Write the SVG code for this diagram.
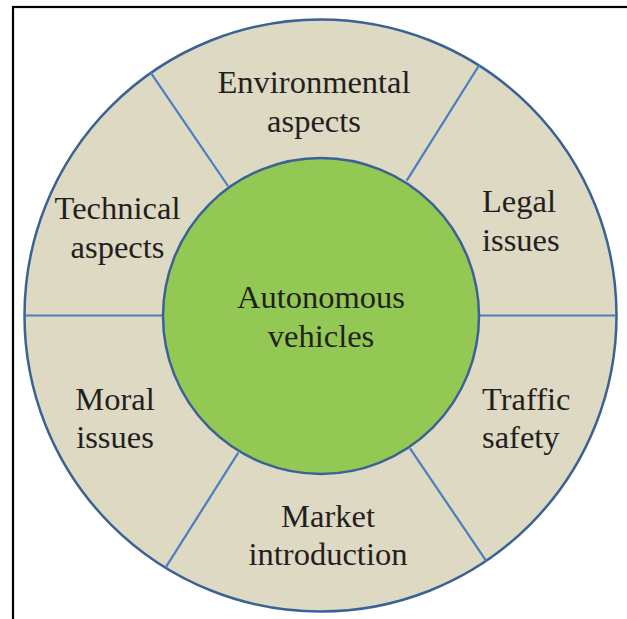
<svg xmlns="http://www.w3.org/2000/svg" width="627" height="619" viewBox="0 0 627 619">
<style>
.lbl{font-family:"Liberation Serif","Times New Roman",serif;font-size:32.5px;fill:#231f20}
.mid{text-anchor:middle}
.spoke{stroke:#4a7ebf;stroke-width:2.2;fill:none}
</style>
<rect width="627" height="619" fill="#ffffff"/>
<rect x="13" y="7" width="640" height="640" fill="none" stroke="#000000" stroke-width="2.2"/>
<g id="ring">
<circle cx="320.5" cy="315.5" r="296" fill="#ddd9c3" stroke="#3b6295" stroke-width="2.5"/>
</g>
<g id="connectors">
<line class="spoke" x1="25" y1="315.5" x2="163" y2="315.5"/>
<line class="spoke" x1="479" y1="315.5" x2="616" y2="315.5"/>
<line class="spoke" x1="150.7" y1="72.7" x2="228" y2="186"/>
<line class="spoke" x1="479.3" y1="65" x2="406.7" y2="180.7"/>
<line class="spoke" x1="165.7" y1="567.3" x2="238.3" y2="452.7"/>
<line class="spoke" x1="486" y1="560.7" x2="410" y2="448.3"/>
</g>
<g id="center">
<circle cx="321" cy="316" r="158" fill="#92c853" stroke="#3b6295" stroke-width="2.5"/>
<text class="lbl mid" x="321" y="308.3">Autonomous</text>
<text class="lbl mid" x="321" y="346.7">vehicles</text>
</g>
<g id="environmental">
<text class="lbl mid" x="314" y="93.3">Environmental</text>
<text class="lbl mid" x="314" y="131.7">aspects</text>
</g>
<g id="legal">
<text class="lbl" x="482" y="212.3">Legal</text>
<text class="lbl" x="482" y="250.7">issues</text>
</g>
<g id="traffic">
<text class="lbl" x="482" y="410">Traffic</text>
<text class="lbl" x="482" y="448">safety</text>
</g>
<g id="market">
<text class="lbl mid" x="328" y="527">Market</text>
<text class="lbl mid" x="328" y="565">introduction</text>
</g>
<g id="moral">
<text class="lbl mid" x="115" y="410">Moral</text>
<text class="lbl mid" x="115" y="448">issues</text>
</g>
<g id="technical">
<text class="lbl mid" x="117.5" y="219.3">Technical</text>
<text class="lbl mid" x="117.5" y="257.7">aspects</text>
</g>
</svg>
